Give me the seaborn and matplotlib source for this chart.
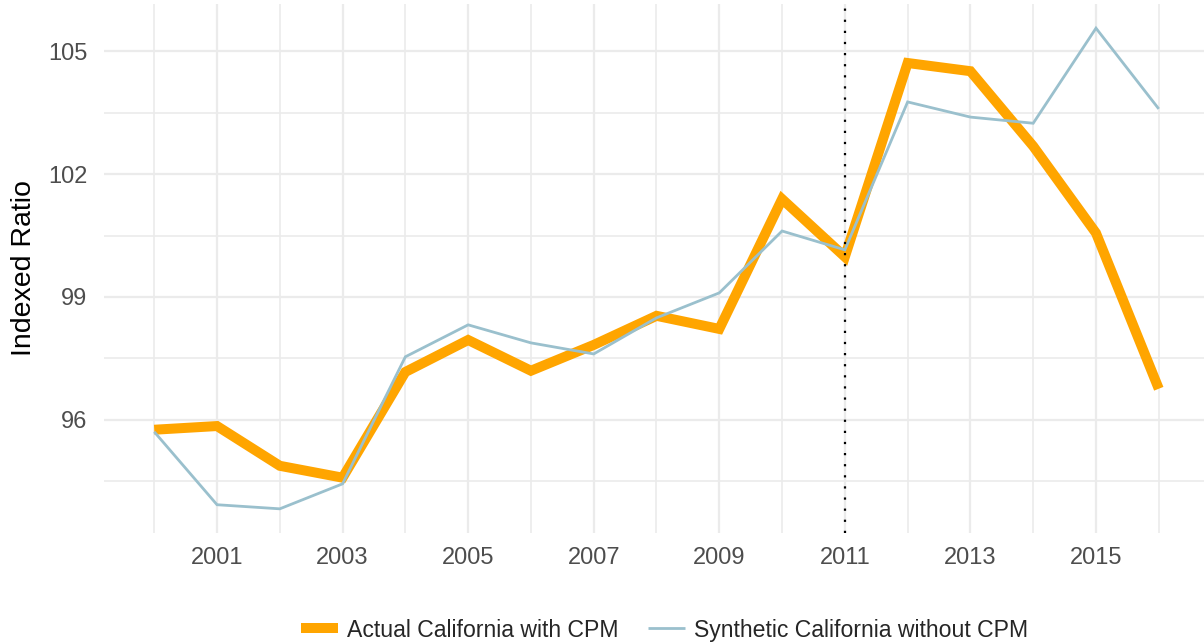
import matplotlib
matplotlib.use("Agg")
import matplotlib.pyplot as plt
import seaborn as sns
import pandas as pd

years = list(range(2000, 2017))
actual = [95.76, 95.85, 94.88, 94.59, 97.17, 97.95, 97.20, 97.83, 98.54, 98.22,
          101.39, 99.98, 104.71, 104.51, 102.68, 100.56, 96.76]
synthetic = [95.71, 93.93, 93.83, 94.44, 97.54, 98.32, 97.88, 97.61, 98.49, 99.10,
             100.61, 100.15, 103.76, 103.39, 103.24, 105.56, 103.59]
series_names = ["Actual California with CPM", "Synthetic California without CPM"]
x_ticks = [2001, 2003, 2005, 2007, 2009, 2011, 2013, 2015]
y_ticks = [96, 99, 102, 105]
treatment_year = 2011

df = pd.DataFrame({
    "year": years * 2,
    "value": actual + synthetic,
    "series": [series_names[0]] * len(years) + [series_names[1]] * len(years),
})

sns.set_theme(style="white")
plt.rcParams["font.family"] = ["Liberation Sans", "DejaVu Sans"]

fig = plt.figure(figsize=(12.04, 6.44), dpi=100)
ax = fig.add_axes([104 / 1204, 1 - 533 / 644, (1209 - 104) / 1204, (533 - 4) / 644])

colors = {series_names[0]: "#FFA500", series_names[1]: "#9AC0CD"}
widths = {series_names[0]: 7.2, series_names[1]: 2.0}

for name in series_names:
    sub = df[df["series"] == name]
    sns.lineplot(data=sub, x="year", y="value", ax=ax, color=colors[name],
                 linewidth=widths[name], label=name, solid_joinstyle="miter",
                 solid_capstyle="butt", zorder=3 if name == series_names[0] else 4)

ax.axvline(treatment_year, color="black", linewidth=1.6, linestyle=(0, (1, 4)), zorder=5)

ax.set_xlim(1999.2, 2016.8)
ax.set_ylim(93.24, 106.15)
ax.set_xticks(x_ticks)
ax.set_yticks(y_ticks)
ax.xaxis.set_minor_locator(plt.FixedLocator([2000, 2002, 2004, 2006, 2008, 2010, 2012, 2014, 2016]))
ax.yaxis.set_minor_locator(plt.FixedLocator([94.5, 97.5, 100.5, 103.5]))
ax.grid(which="major", color="#EBEBEB", linewidth=1.6, zorder=0)
ax.grid(which="minor", color="#EBEBEB", linewidth=1.2, zorder=0)
ax.set_axisbelow(True)
for s in ax.spines.values():
    s.set_visible(False)
ax.tick_params(axis="both", which="both", length=0, labelsize=17, labelcolor="#4D4D4D")
ax.tick_params(axis="x", pad=10)
ax.tick_params(axis="y", pad=12)
ax.set_xlabel("")
ax.set_ylabel("Indexed Ratio", fontsize=20.5, color="black")
ax.yaxis.set_label_coords(-0.0606, 0.5)

handles, labels = ax.get_legend_handles_labels()
ax.get_legend().remove()
fig.legend(handles, labels, loc="center", bbox_to_anchor=(0.552, 0.0217), ncol=2,
           frameon=False, fontsize=16.6, handlelength=1.6, handletextpad=0.4,
           columnspacing=1.3)

fig.savefig("out.png", dpi=100)
